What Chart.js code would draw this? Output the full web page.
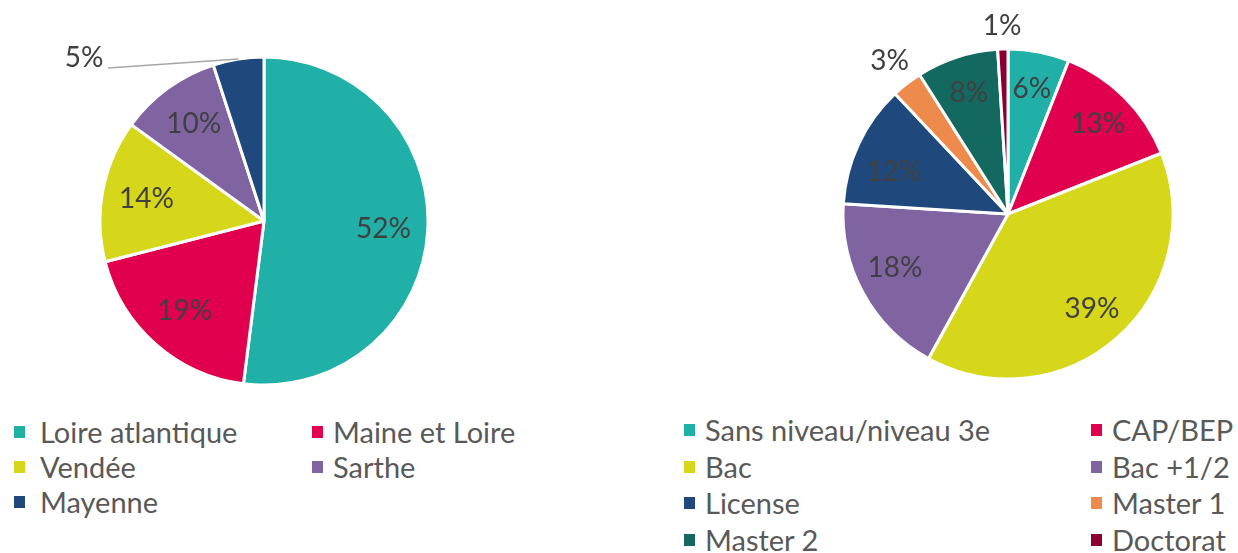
<!DOCTYPE html>
<html>
<head>
<meta charset="utf-8">
<script src="https://cdn.jsdelivr.net/npm/chart.js@4/dist/chart.umd.min.js"></script>
<style>
  body { margin: 0; background: #fff; width: 1238px; height: 553px; position: relative; overflow: hidden; font-family: Lato, sans-serif; }
  canvas { position: absolute; top: 0; }
  .legend { position: absolute; color: #595959; font-size: 29px; }
  .item { position: absolute; white-space: nowrap; line-height: 36px; height: 36px; }
  .item i { position: absolute; left: 0; top: 12px; width: 11px; height: 12px; }
  .item span { position: absolute; }
</style>
</head>
<body>
<canvas id="deptChart" width="620" height="410" style="left:0"></canvas>
<canvas id="levelChart" width="598" height="410" style="left:640px"></canvas>
<div class="legend" id="deptLegend"></div>
<div class="legend" id="levelLegend"></div>
<script>
// repartition par departement
const deptLabels = ['Loire atlantique', 'Maine et Loire', 'Vendée', 'Sarthe', 'Mayenne'];
const deptValues = [52, 19, 14, 10, 5];
const deptColors = ['#20B0A8', '#E0004D', '#D6D61A', '#8064A2', '#1F497D'];

// repartition par niveau d'etudes
const levelLabels = ['Sans niveau/niveau 3e', 'CAP/BEP', 'Bac', 'Bac +1/2', 'License', 'Master 1', 'Master 2', 'Doctorat'];
const levelValues = [6, 13, 39, 18, 12, 3, 8, 1];
const levelColors = ['#20B0A8', '#E0004D', '#D6D61A', '#8064A2', '#1F497D', '#EE8A4C', '#13685F', '#8B0030'];

// dessine les pourcentages sur chaque part
const pctLabels = {
    id: 'pctLabels',
    afterDatasetsDraw(chart, args, opts) {
        const ctx = chart.ctx;
        const meta = chart.getDatasetMeta(0);
        const values = chart.data.datasets[0].data;
        ctx.save();
        ctx.font = '28px Lato, sans-serif';
        ctx.fillStyle = '#404040';
        ctx.textAlign = 'center';
        ctx.textBaseline = 'middle';
        meta.data.forEach(function(arc, i) {
            const p = arc.getProps(['x', 'y', 'startAngle', 'endAngle', 'outerRadius'], true);
            const mid = (p.startAngle + p.endAngle) / 2;
            const out = (opts.moved || {})[i];
            let lx, ly;
            if (out && out.dx !== undefined) {
                lx = p.x + out.dx;
                ly = p.y + out.dy;
                if (out.lineX !== undefined) {
                    const ex = p.x + Math.cos(mid) * p.outerRadius;
                    const ey = p.y + Math.sin(mid) * p.outerRadius;
                    ctx.strokeStyle = '#A6A6A6';
                    ctx.lineWidth = 1.5;
                    ctx.beginPath();
                    ctx.moveTo(lx + out.lineX, ly + out.lineY);
                    ctx.lineTo(ex, ey);
                    ctx.stroke();
                }
            } else {
                const f = out ? out.r : opts.inside;
                lx = p.x + Math.cos(mid) * p.outerRadius * f;
                ly = p.y + Math.sin(mid) * p.outerRadius * f;
            }
            ctx.fillText(values[i] + '%', lx, ly);
        });
        ctx.restore();
    }
};

function makePie(id, labels, values, colors, padding, labelOpts) {
    const ctx = document.getElementById(id).getContext('2d');
    return new Chart(ctx, {
        type: 'pie',
        data: {
            labels: labels,
            datasets: [{
                data: values,
                backgroundColor: colors,
                borderColor: '#ffffff',
                borderWidth: 3
            }]
        },
        options: {
            responsive: false,
            animation: false,
            layout: { padding: padding },
            plugins: {
                legend: { display: false },
                tooltip: { enabled: false },
                pctLabels: labelOpts
            }
        },
        plugins: [pctLabels]
    });
}

function makeLegend(id, labels, colors, left, top, colX, textX, rowH) {
    const box = document.getElementById(id);
    box.style.left = left + 'px';
    box.style.top = top + 'px';
    labels.forEach(function(label, i) {
        const item = document.createElement('div');
        item.className = 'item';
        item.style.left = colX[i % 2] + 'px';
        item.style.top = Math.floor(i / 2) * rowH + 'px';
        item.innerHTML = '<i style="background:' + colors[i] + '"></i><span style="left:' + textX[i % 2] + 'px">' + label + '</span>';
        box.appendChild(item);
    });
}

makePie('deptChart', deptLabels, deptValues, deptColors,
    { left: 98.5, top: 55.5, right: 190.5, bottom: 23.5 },
    { inside: 0.73, moved: {
        4: { dx: -180, dy: -163, lineX: 24, lineY: 10 } } });

makePie('levelChart', levelLabels, levelValues, levelColors,
    { left: 201.5, top: 47.5, right: 63.5, bottom: 29.5 },
    { inside: 0.77, moved: {
        3: { dx: -113, dy: 54 },
        4: { dx: -114, dy: -42 },
        5: { r: 1.17 },
        7: { r: 1.14 } } });

makeLegend('deptLegend', deptLabels, deptColors, 14, 414, [0, 298], [26, 21], 35);
makeLegend('levelLegend', levelLabels, levelColors, 684, 412, [0, 407], [21, 21], 36.5);
</script>
</body>
</html>
